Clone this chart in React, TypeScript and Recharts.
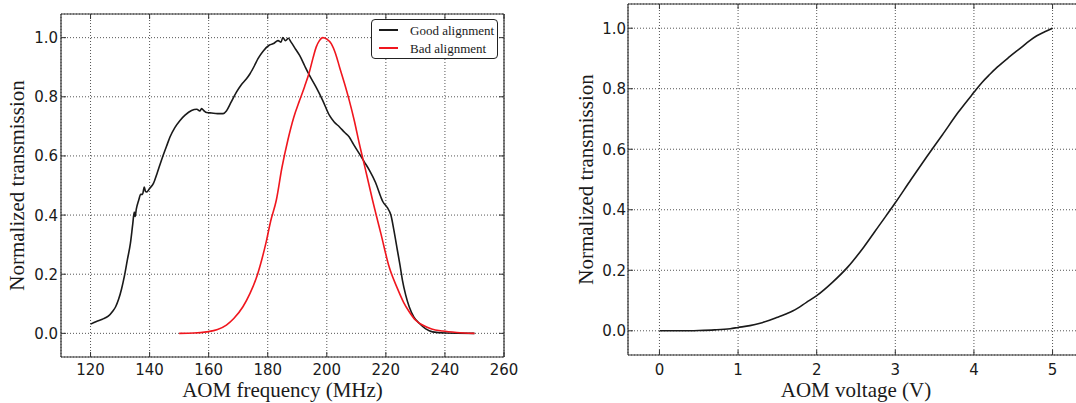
import React from 'react';
import { LineChart, Line, XAxis, YAxis, CartesianGrid, Legend } from 'recharts';

// ---------- data ----------
const freqTicks = [120, 140, 160, 180, 200, 220, 240, 260];
const transTicks = [0, 0.2, 0.4, 0.6, 0.8, 1.0];
const voltTicks = [0, 1, 2, 3, 4, 5];
const seriesNames = ['Good alignment', 'Bad alignment'];

const goodFreq = [120, 122, 124, 126, 127.5, 128.5, 129.5, 130.5, 131.5, 132.5, 133.5, 134.3, 134.8, 135.1, 135.5, 136.3, 137, 137.6, 138.2, 138.6, 139, 140, 141.3, 142.5, 143.5, 144.6, 146, 146.9, 148.5, 150.3, 152, 154.2, 156, 157, 157.6, 158.5, 159.3, 161, 163, 164.9, 166, 167.5, 169.4, 171, 172.8, 174, 175.5, 176.7, 178.5, 180.6, 182, 183.5, 184.5, 185.1, 186, 187, 187.9, 189.5, 190.8, 192.5, 194.1, 196.5, 198.6, 200.9, 202.5, 204.3, 206, 207.6, 209, 211, 212.7, 214.4, 216.5, 218.3, 219, 220.5, 221.7, 222.7, 223.9, 224.8, 225.6, 226.7, 227.9, 229.5, 231.3, 233.5, 235.8, 240, 250];
const goodTrans = [0.031, 0.04, 0.048, 0.058, 0.075, 0.09, 0.115, 0.15, 0.195, 0.25, 0.304, 0.37, 0.41, 0.395, 0.42, 0.45, 0.47, 0.47, 0.495, 0.48, 0.478, 0.49, 0.507, 0.54, 0.57, 0.602, 0.64, 0.664, 0.695, 0.72, 0.738, 0.754, 0.758, 0.752, 0.76, 0.752, 0.747, 0.745, 0.743, 0.743, 0.752, 0.78, 0.816, 0.84, 0.861, 0.878, 0.905, 0.929, 0.955, 0.975, 0.98, 0.99, 0.985, 1.0, 0.99, 0.998, 0.985, 0.96, 0.94, 0.905, 0.873, 0.83, 0.788, 0.737, 0.715, 0.698, 0.68, 0.664, 0.64, 0.608, 0.58, 0.552, 0.51, 0.461, 0.445, 0.425, 0.4, 0.35, 0.281, 0.23, 0.18, 0.13, 0.09, 0.055, 0.034, 0.015, 0.005, 0.001, 0.0];

const badFreq = [150, 155, 159.3, 163, 166, 168.5, 171.6, 174, 176.1, 178, 179.5, 181, 182.9, 184.8, 186.8, 188.8, 190.8, 192.5, 194.1, 195.3, 196.4, 197.5, 198.6, 200, 201.5, 203, 204.3, 206, 207.6, 209.3, 211, 213.3, 215.5, 218.3, 221.1, 223.9, 226, 227.9, 230, 232.4, 235.5, 239.2, 244, 250];
const badTrans = [0.0, 0.001, 0.005, 0.013, 0.028, 0.05, 0.09, 0.135, 0.186, 0.25, 0.31, 0.38, 0.45, 0.56, 0.653, 0.73, 0.788, 0.835, 0.884, 0.93, 0.968, 0.99, 1.0, 0.995, 0.98, 0.945, 0.901, 0.845, 0.788, 0.72, 0.642, 0.545, 0.45, 0.338, 0.225, 0.152, 0.105, 0.073, 0.045, 0.028, 0.015, 0.008, 0.003, 0.0];

const voltage = [0, 0.3, 0.5, 0.7, 0.9, 1.0, 1.15, 1.28, 1.4, 1.49, 1.6, 1.7, 1.87, 2.0, 2.2, 2.4, 2.6, 2.8, 3.0, 3.2, 3.4, 3.6, 3.8, 4.0, 4.1, 4.2, 4.3, 4.45, 4.6, 4.71, 4.8, 4.9, 5.0];
const voltTrans = [0, 0, 0.001, 0.003, 0.007, 0.011, 0.017, 0.025, 0.035, 0.044, 0.055, 0.066, 0.094, 0.116, 0.16, 0.212, 0.277, 0.35, 0.423, 0.5, 0.575, 0.648, 0.722, 0.788, 0.82, 0.847, 0.872, 0.905, 0.936, 0.959, 0.975, 0.988, 1.0];

const goodData = goodFreq.map((x, i) => ({ x, y: goodTrans[i] }));
const badData = badFreq.map((x, i) => ({ x, y: badTrans[i] }));
const voltData = voltage.map((x, i) => ({ x, y: voltTrans[i] }));

// ---------- style ----------
const FRAME = '#333';
const TICK_FONT = "'DejaVu Sans', sans-serif";
const LABEL_FONT = "'Liberation Serif', 'Times New Roman', serif";
const TEXT = '#1a1a1a';
const BLACK = '#1a1a1a';
const RED = '#f0161e';

const fmt1 = (v: number) => v.toFixed(1);

const BottomTick = (m: number, base: number, f: (v: number) => string) => (p: any) => {
  const axisY = p.y - m;
  return (
    <g>
      <line x1={p.x} x2={p.x} y1={axisY} y2={axisY - 5} stroke={FRAME} strokeWidth={1} />
      <text x={p.x} y={axisY + base} textAnchor="middle" fontFamily={TICK_FONT} fontSize={15} fill={TEXT}>
        {f(p.payload.value)}
      </text>
    </g>
  );
};

const LeftTick = (m: number) => (p: any) => {
  const axisX = p.x + m;
  return (
    <g>
      <line x1={axisX} x2={axisX + 5} y1={p.y} y2={p.y} stroke={FRAME} strokeWidth={1} />
      <text x={p.x} y={p.y + 5.5} textAnchor="end" fontFamily={TICK_FONT} fontSize={15} fill={TEXT}>
        {fmt1(p.payload.value)}
      </text>
    </g>
  );
};

const TopTick = (p: any) => (
  <line x1={p.x} x2={p.x} y1={p.y} y2={p.y + 5} stroke={FRAME} strokeWidth={1} />
);
const RightTick = (p: any) => (
  <line x1={p.x} x2={p.x - 5} y1={p.y} y2={p.y} stroke={FRAME} strokeWidth={1} />
);

const LegendBox = (props: any) => {
  const items = [...(props.payload || [])].sort(
    (a: any, b: any) => seriesNames.indexOf(a.value) - seriesNames.indexOf(b.value)
  );
  return (
    <div
      style={{
        position: 'relative',
        width: 127,
        height: 40,
        border: '1px solid #222',
        borderRadius: 4,
        background: '#fff',
        boxSizing: 'border-box',
      }}
    >
      {items.map((it: any, i: number) => (
        <div key={i}>
          <div
            style={{
              position: 'absolute',
              left: 7,
              top: 9.3 + i * 18,
              width: 19,
              height: 2,
              background: it.color,
            }}
          />
          <div
            style={{
              position: 'absolute',
              left: 38,
              top: 1.5 + i * 18,
              fontFamily: LABEL_FONT,
              fontSize: 13,
              lineHeight: '17px',
              color: TEXT,
              whiteSpace: 'nowrap',
            }}
          >
            {it.value}
          </div>
        </div>
      ))}
    </div>
  );
};

const labelStyle = { fontFamily: LABEL_FONT, fontSize: 21, fill: TEXT };

export default function App() {
  return (
    <div
      style={{
        position: 'fixed',
        left: 0,
        top: 0,
        width: 1076,
        height: 403,
        overflow: 'hidden',
        background: '#fff',
      }}
    >
      <div style={{ position: 'absolute', left: 0, top: 0 }}>
        <LineChart width={520} height={403} margin={{ top: 0, right: 0, bottom: 0, left: 0 }}>
          <CartesianGrid xAxisId="b" yAxisId="l" stroke="#555" strokeDasharray="1 2" strokeWidth={1} />
          <XAxis
            xAxisId="b"
            type="number"
            dataKey="x"
            domain={[110, 260]}
            ticks={freqTicks}
            allowDataOverflow
            height={46}
            tickSize={0}
            tickMargin={6}
            axisLine={{ stroke: FRAME, strokeWidth: 1.2 }}
            tick={BottomTick(6, 18, (v) => String(v))}
            label={{ value: 'AOM frequency (MHz)', position: 'insideBottom', offset: 6, style: labelStyle }}
          />
          <XAxis
            xAxisId="t"
            orientation="top"
            type="number"
            dataKey="x"
            domain={[110, 260]}
            ticks={freqTicks}
            allowDataOverflow
            height={14}
            tickSize={0}
            tickMargin={0}
            axisLine={{ stroke: FRAME, strokeWidth: 1.2 }}
            tick={TopTick}
          />
          <YAxis
            yAxisId="l"
            type="number"
            domain={[-0.08, 1.08]}
            ticks={transTicks}
            allowDataOverflow
            width={61}
            tickSize={0}
            tickMargin={3}
            axisLine={{ stroke: FRAME, strokeWidth: 1.2 }}
            tick={LeftTick(3)}
            label={{
              value: 'Normalized transmission',
              angle: -90,
              position: 'insideLeft',
              offset: 17,
              style: { ...labelStyle, textAnchor: 'middle' },
            }}
          />
          <YAxis
            yAxisId="r"
            orientation="right"
            type="number"
            domain={[-0.08, 1.08]}
            ticks={transTicks}
            allowDataOverflow
            width={16}
            tickSize={0}
            tickMargin={0}
            axisLine={{ stroke: FRAME, strokeWidth: 1.2 }}
            tick={RightTick}
          />
          <Line
            xAxisId="b"
            yAxisId="l"
            data={goodData}
            dataKey="y"
            name={seriesNames[0]}
            type="monotone"
            stroke={BLACK}
            strokeWidth={1.6}
            dot={false}
            isAnimationActive={false}
          />
          <Line
            xAxisId="b"
            yAxisId="l"
            data={badData}
            dataKey="y"
            name={seriesNames[1]}
            type="monotone"
            stroke={RED}
            strokeWidth={1.6}
            dot={false}
            isAnimationActive={false}
          />
          <Legend
            layout="vertical"
            align="center"
            verticalAlign="middle"
            wrapperStyle={{ left: 371, top: 19, width: 127, height: 40 }}
            content={LegendBox}
          />
        </LineChart>
      </div>

      <div style={{ position: 'absolute', left: 560, top: 0 }}>
        <LineChart width={540} height={403} margin={{ top: 0, right: 0, bottom: 0, left: 0 }}>
          <CartesianGrid xAxisId="b" yAxisId="l" stroke="#555" strokeDasharray="1 2" strokeWidth={1} />
          <XAxis
            xAxisId="b"
            type="number"
            dataKey="x"
            domain={[-0.4, 5.4]}
            ticks={voltTicks}
            allowDataOverflow
            height={48}
            tickSize={0}
            tickMargin={6}
            axisLine={{ stroke: FRAME, strokeWidth: 1.2 }}
            tick={BottomTick(6, 19.5, (v) => String(v))}
            label={{ value: 'AOM voltage (V)', position: 'insideBottom', offset: 6, style: labelStyle }}
          />
          <XAxis
            xAxisId="t"
            orientation="top"
            type="number"
            dataKey="x"
            domain={[-0.4, 5.4]}
            ticks={voltTicks}
            allowDataOverflow
            height={4}
            tickSize={0}
            tickMargin={0}
            axisLine={{ stroke: FRAME, strokeWidth: 1.2 }}
            tick={TopTick}
          />
          <YAxis
            yAxisId="l"
            type="number"
            domain={[-0.08, 1.08]}
            ticks={transTicks}
            allowDataOverflow
            width={68}
            tickSize={0}
            tickMargin={2}
            axisLine={{ stroke: FRAME, strokeWidth: 1.2 }}
            tick={LeftTick(2)}
            label={{
              value: 'Normalized transmission',
              angle: -90,
              position: 'insideLeft',
              offset: 26,
              style: { ...labelStyle, textAnchor: 'middle' },
            }}
          />
          <YAxis
            yAxisId="r"
            orientation="right"
            type="number"
            domain={[-0.08, 1.08]}
            ticks={transTicks}
            allowDataOverflow
            width={16}
            tickSize={0}
            tickMargin={0}
            axisLine={{ stroke: FRAME, strokeWidth: 1.2 }}
            tick={RightTick}
          />
          <Line
            xAxisId="b"
            yAxisId="l"
            data={voltData}
            dataKey="y"
            type="monotone"
            stroke={BLACK}
            strokeWidth={1.6}
            dot={false}
            isAnimationActive={false}
          />
        </LineChart>
      </div>
    </div>
  );
}
